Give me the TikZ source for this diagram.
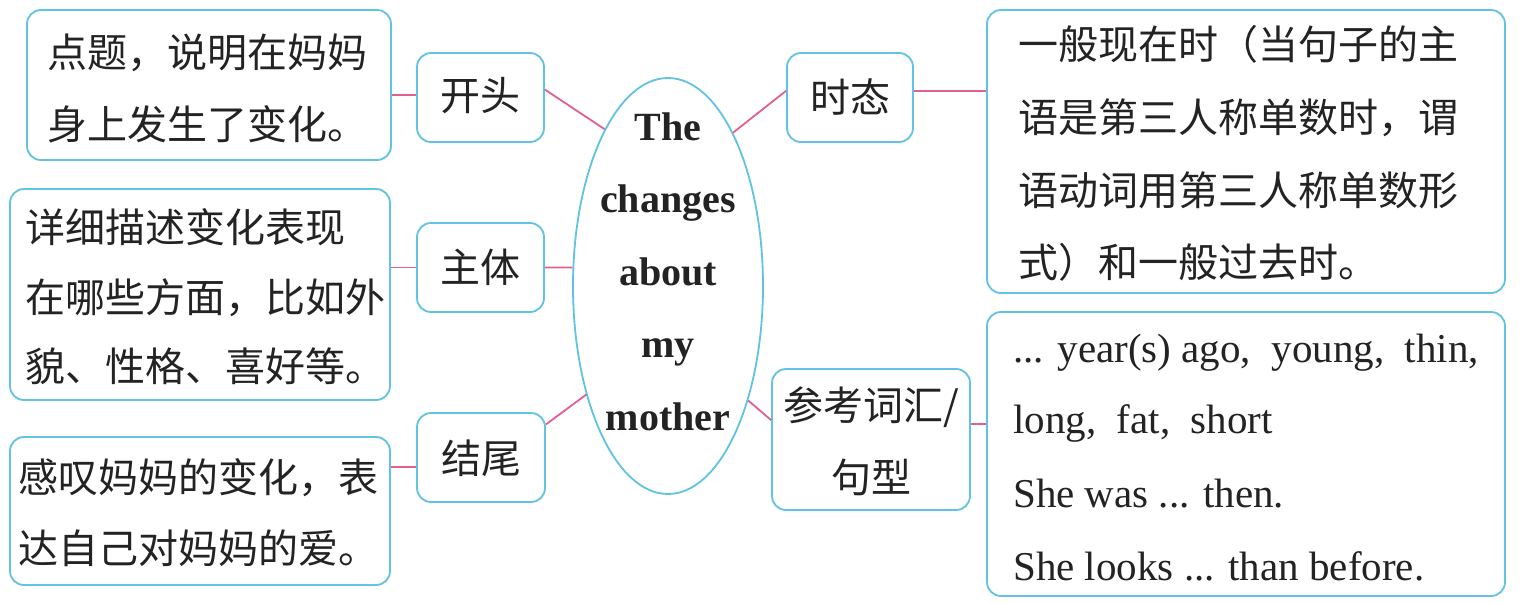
\documentclass[tikz,border=0pt]{standalone}
\usepackage{fontspec}
\setmainfont{Liberation Serif}
\newfontfamily\cjk{Noto Sans CJK SC}
\usetikzlibrary{shapes.geometric}
\definecolor{bordercyan}{RGB}{95,195,225}
\definecolor{linkpink}{RGB}{225,95,145}
\definecolor{ink}{RGB}{35,35,35}
\begin{document}
\begin{tikzpicture}[x=1pt,y=-1pt,
  box/.style={draw=bordercyan, line width=1.8pt, rounded corners=14pt, rectangle, inner sep=0pt},
  link/.style={draw=linkpink, line width=1.8pt},
  zh/.style={font=\cjk\fontsize{40}{48}\selectfont, inner sep=0pt, text=ink},
  en/.style={font=\fontsize{41}{48}\selectfont, inner sep=0pt, text=ink},
  ttl/.style={font=\bfseries\fontsize{40}{48}\selectfont, inner sep=0pt, text=ink}]
\path[fill=white, use as bounding box] (0,0) rectangle (1523,603);

% boxes
\node[box, minimum width=364, minimum height=150] (tl) at (209,85) {};
\node[box, minimum width=380, minimum height=211] (ml) at (200,294.5) {};
\node[box, minimum width=380, minimum height=148] (bl) at (200,511) {};
\node[box, minimum width=127, minimum height=89] (kaitou) at (480.5,97.5) {};
\node[box, minimum width=127, minimum height=89] (zhuti) at (480.5,267.5) {};
\node[box, minimum width=128, minimum height=89] (jiewei) at (481,457.5) {};
\node[draw=bordercyan, line width=1.8pt, ellipse, minimum width=190, minimum height=416, inner sep=0pt] (ell) at (668,286) {};
\node[box, minimum width=126, minimum height=89] (shitai) at (850,97.5) {};
\node[box, minimum width=198, minimum height=141] (ckcy) at (871,439.5) {};
\node[box, minimum width=518, minimum height=283] (tr) at (1246,151.5) {};
\node[box, minimum width=518, minimum height=284] (br) at (1246,454) {};

% texts
\node[zh, anchor=base west] (tl1) at (47,67) {点题，说明在妈妈};
\node[zh, anchor=base west] (tl2) at (47,139) {身上发生了变化。};
\node[zh, anchor=base west] (ml1) at (25,242) {详细描述变化表现};
\node[zh, anchor=base west] (ml2) at (25,312) {在哪些方面，比如外};
\node[zh, anchor=base west] (ml3) at (25,381) {貌、性格、喜好等。};
\node[zh, anchor=base west] (bl1) at (18,492) {感叹妈妈的变化，表};
\node[zh, anchor=base west] (bl2) at (18,563) {达自己对妈妈的爱。};
\node[zh, anchor=base] (kaitout) at (480.5,110) {开头};
\node[zh, anchor=base] (zhutit) at (480.5,282) {主体};
\node[zh, anchor=base] (jieweit) at (481,473) {结尾};
\node[zh, anchor=base] (shitait) at (850,112) {时态};
\node[zh, anchor=base] (ckcy1) at (871,420) {参考词汇/};
\node[zh, anchor=base] (ckcy2) at (871,492) {句型};
\node[ttl, anchor=base] (t1) at (668,140) {The};
\node[ttl, anchor=base] (t2) at (668,212.5) {changes};
\node[ttl, anchor=base] (t3) at (668,285) {about};
\node[ttl, anchor=base] (t4) at (668,357.5) {my};
\node[ttl, anchor=base] (t5) at (668,430) {mother};
\node[zh, anchor=base west] (tr1) at (1018,59) {一般现在时（当句子的主};
\node[zh, anchor=base west] (tr2) at (1018,132) {语是第三人称单数时，谓};
\node[zh, anchor=base west] (tr3) at (1018,205) {语动词用第三人称单数形};
\node[zh, anchor=base west] (tr4) at (1018,277) {式）和一般过去时。};
\node[en, anchor=base west] (br1) at (1013,362) {... year(s) ago,\ \ young,\ \ thin,};
\node[en, anchor=base west] (br2) at (1013,433) {long,\ \ fat,\ \ short};
\node[en, anchor=base west] (br3) at (1013,507) {She was ... then.};
\node[en, anchor=base west] (br4) at (1013,580) {She looks ... than before.};

% connectors
\draw[link] (kaitou.178 -| tl.east) -- (kaitou.178);
\draw[link] (kaitou.7) -- (ell.112);
\draw[link] (zhuti.west -| ml.east) -- (zhuti.west);
\draw[link] (zhuti.east) -- (ell.169);
\draw[link] (jiewei.188 -| bl.east) -- (jiewei.188);
\draw[link] (jiewei.27) -- (ell.233.6);
\draw[link] (ell.67.6) -- (shitai.174);
\draw[link] (shitai.6) -- (shitai.6 -| tr.west);
\draw[link] (ell.305.5) -- (ckcy.169);
\draw[link] (ckcy.9.5) -- (ckcy.9.5 -| br.west);
\end{tikzpicture}
\end{document}
